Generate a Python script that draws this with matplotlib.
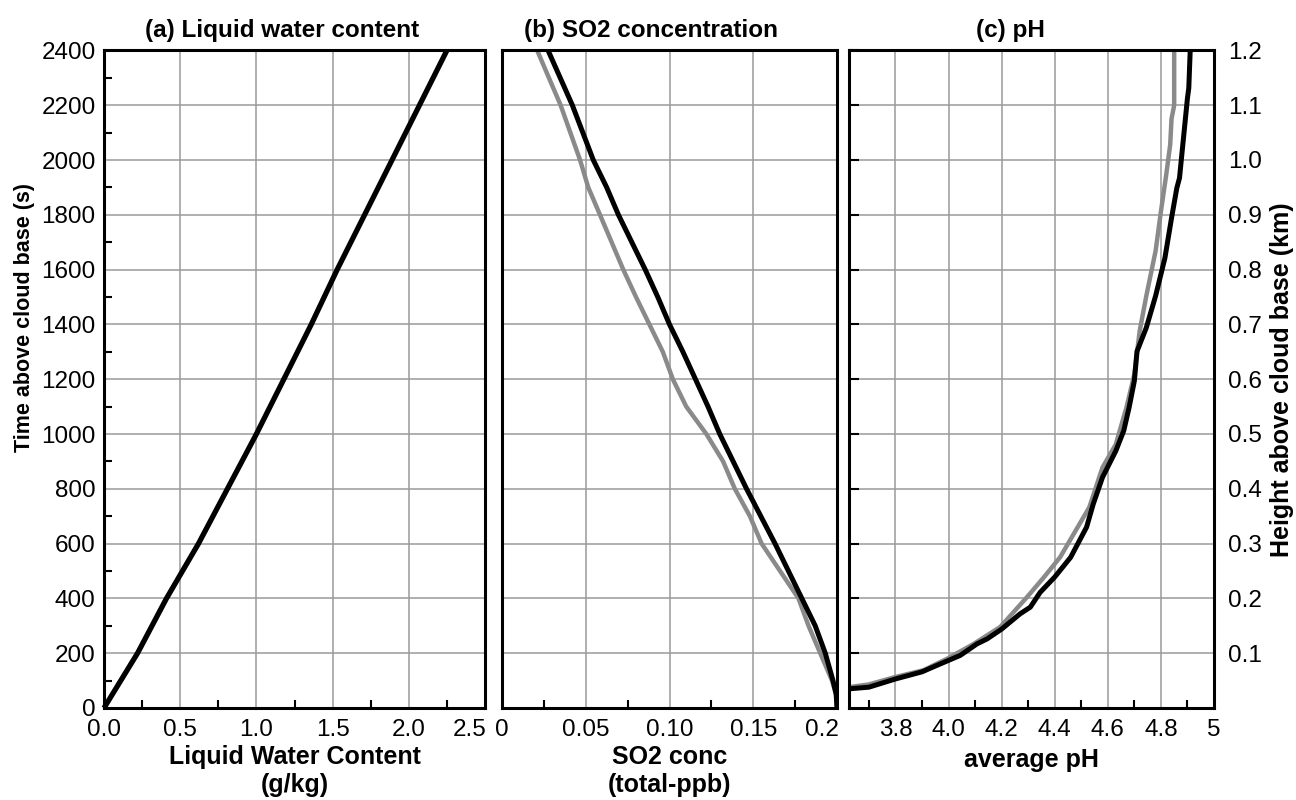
import numpy as np
import matplotlib
matplotlib.use('Agg')
import matplotlib.pyplot as plt
from matplotlib.ticker import MultipleLocator, FixedLocator, FixedFormatter

plt.rcParams['font.family'] = ['Liberation Sans', 'DejaVu Sans']

# (a) liquid water content vs time
time_a = [0, 200, 400, 600, 800, 1000, 1200, 1400, 1600, 1800, 2000, 2200, 2400]
lwc = [0, 0.22, 0.41, 0.62, 0.81, 1.0, 1.18, 1.36, 1.53, 1.71, 1.89, 2.07, 2.25]
xticks_a = [0.0, 0.5, 1.0, 1.5, 2.0, 2.5]
xlabels_a = ['0.0', '0.5', '1.0', '1.5', '2.0', '2.5']

# (b) SO2 concentration vs time (black / gray runs)
time_b = [0, 50, 100, 200, 300, 400, 500, 600, 700, 800, 900, 1000, 1100, 1200, 1300,
          1400, 1500, 1600, 1800, 1900, 2000, 2200, 2400]
so2_black = [0.200, 0.1995, 0.1976, 0.193, 0.187, 0.179, 0.171, 0.163, 0.1545, 0.146,
             0.138, 0.130, 0.123, 0.1155, 0.108, 0.100, 0.093, 0.0855, 0.0695, 0.0625,
             0.0545, 0.042, 0.0275]
so2_gray = [0.200, 0.1995, 0.197, 0.190, 0.183, 0.177, 0.166, 0.155, 0.148, 0.139,
            0.132, 0.122, 0.110, 0.102, 0.096, 0.088, 0.080, 0.0724, 0.0585, 0.0515,
            0.0466, 0.035, 0.021]
xticks_b = [0, 0.05, 0.10, 0.15, 0.2]
xlabels_b = ['0', '0.05', '0.10', '0.15', '0.2']

# (c) average pH vs height (km)
ph_black = [3.625, 3.70, 3.80, 3.90, 3.957, 4.044, 4.107, 4.145, 4.20, 4.27, 4.308, 4.345,
            4.40, 4.46, 4.52, 4.545, 4.58, 4.63, 4.66, 4.68, 4.70, 4.71, 4.745, 4.78,
            4.815, 4.84, 4.86, 4.87, 4.885, 4.90, 4.905, 4.91]
h_black = [0.035, 0.038, 0.053, 0.066, 0.078, 0.096, 0.117, 0.126, 0.144, 0.172, 0.184,
           0.211, 0.239, 0.275, 0.330, 0.372, 0.421, 0.469, 0.506, 0.548, 0.597, 0.651,
           0.694, 0.752, 0.821, 0.894, 0.949, 0.967, 1.040, 1.113, 1.131, 1.195]
ph_gray = [3.625, 3.70, 3.795, 3.906, 3.995, 4.095, 4.195, 4.295, 4.36, 4.42, 4.53, 4.58,
           4.63, 4.67, 4.70, 4.72, 4.745, 4.78, 4.80, 4.82, 4.835, 4.84, 4.85, 4.85]
h_gray = [0.038, 0.043, 0.056, 0.069, 0.090, 0.117, 0.148, 0.202, 0.239, 0.275, 0.366,
          0.439, 0.481, 0.548, 0.609, 0.688, 0.752, 0.834, 0.906, 0.973, 1.028, 1.075,
          1.10, 1.20]
xticks_c = [3.8, 4.0, 4.2, 4.4, 4.6, 4.8, 5.0]
xlabels_c = ['3.8', '4.0', '4.2', '4.4', '4.6', '4.8', '5']

GRID = '#9a9a9a'
GRAY = '#8a8a8a'
TICK_FS = 17.5
LAB_FS = 18
TITLE_FS = 17.5
XPAD = 8

fig = plt.figure(figsize=(12.96, 8), dpi=100)
bot, hgt = 0.115, 0.822
axa = fig.add_axes([104/1296, bot, 381/1296, hgt])
axb = fig.add_axes([502/1296, bot, 335/1296, hgt])
axc = fig.add_axes([849/1296, bot, 365/1296, hgt])

for ax in (axa, axb, axc):
    for s in ax.spines.values():
        s.set_linewidth(2.2)
    ax.grid(True, which='major', color=GRID, linewidth=1.1)
    ax.set_axisbelow(True)
    ax.tick_params(which='both', direction='in', labelsize=TICK_FS, width=1.5)
    ax.tick_params(which='major', length=0)
    ax.tick_params(which='minor', length=6)
    ax.tick_params(axis='x', pad=XPAD)


def last_label_right(ax, ticks, labels):
    # the last x label sits left of its tick (right-aligned), like in the original
    ax.xaxis.set_major_locator(FixedLocator(ticks))
    ax.xaxis.set_major_formatter(FixedFormatter(labels[:-1] + ['']))
    ax.annotate(labels[-1], xy=(ticks[-1], 0), xycoords=('data', 'axes fraction'),
                xytext=(1, -XPAD), textcoords='offset points', ha='right', va='top',
                fontsize=TICK_FS, annotation_clip=False)


# panel a
axa.plot(lwc, time_a, color='black', linewidth=3.8, solid_capstyle='butt', clip_on=False)
axa.set_xlim(0, 2.5)
axa.set_ylim(0, 2400)
last_label_right(axa, xticks_a, xlabels_a)
axa.xaxis.set_minor_locator(MultipleLocator(0.25))
axa.yaxis.set_major_locator(MultipleLocator(200))
axa.yaxis.set_minor_locator(MultipleLocator(100))
axa.tick_params(axis='y', pad=6)
axa.set_xlabel('Liquid Water Content\n(g/kg)', fontsize=LAB_FS, fontweight='bold', labelpad=3)
axa.set_title('(a) Liquid water content', fontsize=TITLE_FS, fontweight='bold', x=0.467, pad=10)

# panel b
axb.plot(so2_gray, time_b, color=GRAY, linewidth=3.2, solid_joinstyle='round')
axb.plot(so2_black, time_b, color='black', linewidth=3.6, solid_joinstyle='round')
axb.set_xlim(0, 0.2)
axb.set_ylim(0, 2400)
last_label_right(axb, xticks_b, xlabels_b)
axb.xaxis.set_minor_locator(MultipleLocator(0.025))
axb.yaxis.set_major_locator(MultipleLocator(200))
axb.tick_params(axis='y', labelleft=False)
axb.set_xlabel('SO2 conc\n(total-ppb)', fontsize=LAB_FS, fontweight='bold', labelpad=3)
axb.set_title('(b) SO2 concentration', fontsize=TITLE_FS, fontweight='bold', x=0.445, pad=10)

# panel c
axc.plot(ph_gray, h_gray, color=GRAY, linewidth=3.2, solid_joinstyle='round')
axc.plot(ph_black, h_black, color='black', linewidth=3.6, solid_joinstyle='round')
axc.set_xlim(3.625, 5.0)
axc.set_ylim(0, 1.2)
axc.xaxis.set_major_locator(FixedLocator(xticks_c))
axc.xaxis.set_major_formatter(FixedFormatter(xlabels_c))
axc.xaxis.set_minor_locator(FixedLocator([3.7, 3.9, 4.1, 4.3, 4.5, 4.7, 4.9]))
axc.set_yticks(np.arange(1, 13) / 10)
axc.yaxis.set_major_formatter('{x:.1f}')
axc.tick_params(axis='y', which='major', left=True, length=7, labelleft=False,
                labelright=True, right=False, pad=10)
axc.set_xlabel('average pH', fontsize=LAB_FS, fontweight='bold', labelpad=5)
axc.set_title('(c) pH', fontsize=TITLE_FS, fontweight='bold', x=0.441, pad=10)

fig.text(25/1296, 1 - 317/800, 'Time above cloud base (s)', rotation=90,
         ha='center', va='center', fontsize=15.5, fontweight='bold')
fig.text(1282/1296, 1 - 380/800, 'Height above cloud base (km)', rotation=90,
         ha='center', va='center', fontsize=18, fontweight='bold')

fig.savefig('out.png', dpi=100)
